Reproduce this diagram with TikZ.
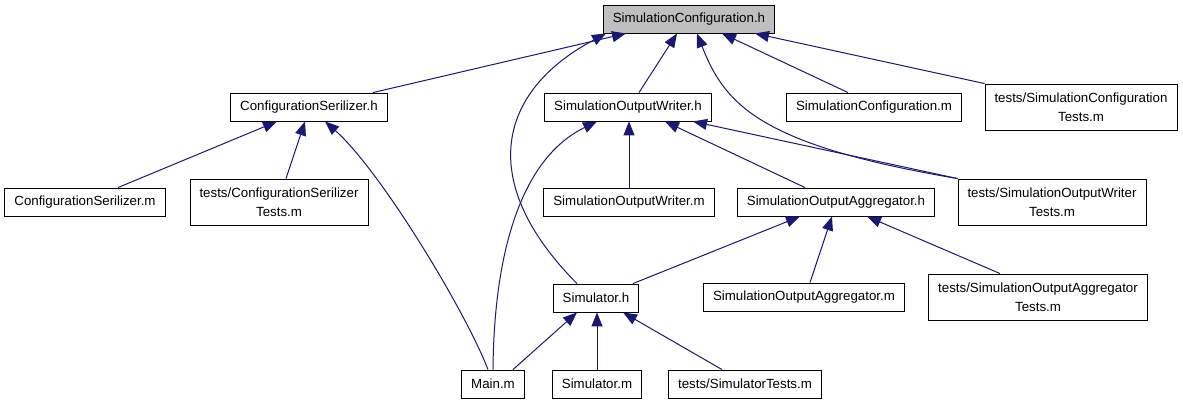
\documentclass[tikz,border=0pt]{standalone}
\usepackage{fontspec}
\setmainfont{Liberation Sans}
\usepackage{tikz}
\usetikzlibrary{arrows.meta}
\definecolor{edgeblue}{HTML}{191970}
\definecolor{grey75}{HTML}{BFBFBF}

\begin{document}
\begin{tikzpicture}[
  x=1pt, y=-1pt,
  file/.style={rectangle, draw=black, fill=white, line width=0.9pt, minimum height=28pt, inner xsep=9.5pt, inner ysep=2pt, font=\fontsize{13.3}{19}\selectfont, align=center},
  tallfile/.style={file, minimum height=46pt},
  topfile/.style={file, fill=grey75},
  arrow/.style={-{Triangle[length=14pt, width=11pt]}, draw=edgeblue, line width=1pt}
]
  \fill[white] (0,0) rectangle (1183,405);
  \useasboundingbox (0,0) rectangle (1183,405);

  \node[topfile] (simconfh) at (689,19) {SimulationConfiguration.h};
  \node[file] (serh) at (309,107) {ConfigurationSerilizer.h};
  \node[file] (writerh) at (628,107) {SimulationOutputWriter.h};
  \node[file] (simconfm) at (874,107) {SimulationConfiguration.m};
  \node[tallfile] (simconftest) at (1081,107) {tests/SimulationConfiguration\\Tests.m};
  \node[file] (serm) at (85,202) {ConfigurationSerilizer.m};
  \node[tallfile] (sertest) at (279,202) {tests/ConfigurationSerilizer\\Tests.m};
  \node[file] (writerm) at (629,202) {SimulationOutputWriter.m};
  \node[file] (aggh) at (836,202) {SimulationOutputAggregator.h};
  \node[tallfile] (writertest) at (1052,202) {tests/SimulationOutputWriter\\Tests.m};
  \node[file] (simh) at (596,298) {Simulator.h};
  \node[file] (aggm) at (804,297) {SimulationOutputAggregator.m};
  \node[tallfile] (aggtest) at (1038,297) {tests/SimulationOutputAggregator\\Tests.m};
  \node[file] (mainm) at (493,384) {Main.m};
  \node[file] (simm) at (597,384) {Simulator.m};
  \node[file] (simtest) at (745,384) {tests/SimulatorTests.m};

  \draw[arrow] ([xshift=64pt]serh.north) -- ([xshift=-63pt]simconfh.south);
  \draw[arrow] ([xshift=-19pt]simh.north) .. controls (477,183) and (496,92) .. ([xshift=-83pt]simconfh.south);
  \draw[arrow] ([xshift=11pt]writerh.north) -- ([xshift=-12pt]simconfh.south);
  \draw[arrow] (writertest.north west) .. controls (760,145) and (725,105) .. ([xshift=8pt]simconfh.south);
  \draw[arrow] ([xshift=-26pt]simconfm.north) -- ([xshift=33pt]simconfh.south);
  \draw[arrow] (simconftest.north west) -- ([xshift=66pt]simconfh.south);

  \draw[arrow] (writerm.north) -- (writerm.north |- writerh.south);
  \draw[arrow] ([xshift=-31pt]aggh.north) -- ([xshift=37pt]writerh.south);
  \draw[arrow] (writertest.north west) -- ([xshift=65pt]writerh.south);
  \draw[arrow] (mainm.north) .. controls (494,250) and (522,158) .. ([xshift=-31pt]writerh.south);

  \draw[arrow] ([xshift=33pt]serm.north) -- ([xshift=-32pt]serh.south);
  \draw[arrow] ([xshift=7pt]sertest.north) -- ([xshift=-4pt]serh.south);
  \draw[arrow] ([xshift=-5pt]mainm.north) .. controls (465,310) and (380,170) .. ([xshift=16pt]serh.south);

  \draw[arrow] ([xshift=37pt]simh.north) -- ([xshift=-36pt]aggh.south);
  \draw[arrow] ([xshift=6pt]aggm.north) -- ([xshift=-4pt]aggh.south);
  \draw[arrow] ([xshift=-38pt]aggtest.north) -- ([xshift=31pt]aggh.south);

  \draw[arrow] ([xshift=20pt]mainm.north) -- ([xshift=-19pt]simh.south);
  \draw[arrow] (simm.north) -- (simm.north |- simh.south);
  \draw[arrow] ([xshift=-23pt]simtest.north) -- ([xshift=27pt]simh.south);
\end{tikzpicture}
\end{document}
